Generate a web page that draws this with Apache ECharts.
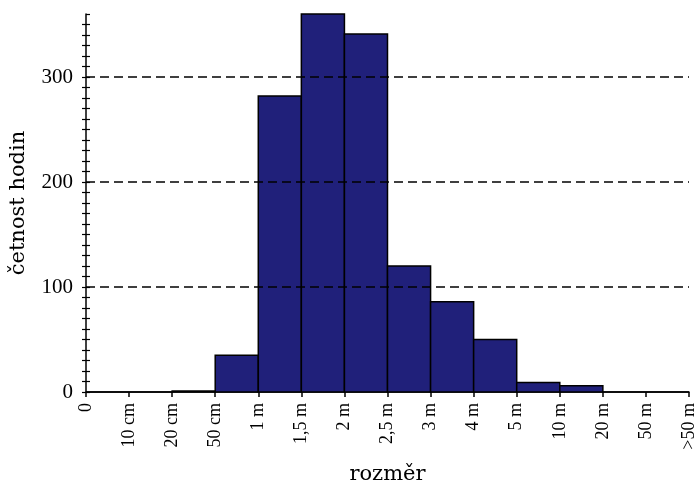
<!DOCTYPE html>
<html>
<head>
<meta charset="utf-8">
<script src="https://cdn.jsdelivr.net/npm/echarts@6/dist/echarts.min.js"></script>
<style>html,body{margin:0;padding:0;background:#fff;}#c{width:698px;height:484px;}</style>
</head>
<body>
<div id="c"></div>
<script>
const xLabels = ['0','10 cm','20 cm','50 cm','1 m','1,5 m','2 m','2,5 m','3 m','4 m','5 m','10 m','20 m','50 m','>50 m'];
const counts = [0, 0, 1, 35, 282, 360, 341, 120, 86, 50, 9, 6, 0, 0];
const yLabelValues = [0, 100, 200, 300];
const gridValues = [100, 200, 300];
const yMax = 360;

const binData = counts.map((c, i) => [i, i + 1, c]);

const chart = echarts.init(document.getElementById('c'), null, {renderer: 'canvas'});
const tickFont = 'Liberation Serif';
const titleFont = 'DejaVu Serif';

chart.setOption({
  animation: false,
  backgroundColor: '#fff',
  grid: {left: 86, right: 9, top: 14, bottom: 92, containLabel: false, outerBoundsMode: 'none'},
  xAxis: {
    type: 'value', min: 0, max: xLabels.length - 1, interval: 1,
    name: 'rozměr', nameLocation: 'middle', nameGap: 72,
    nameTextStyle: {fontFamily: titleFont, fontSize: 21, color: '#000'},
    axisLine: {show: true, lineStyle: {color: '#000', width: 1.5}},
    axisTick: {show: true, length: 5, lineStyle: {color: '#000', width: 1.5}},
    axisLabel: {
      rotate: 90, margin: 11, color: '#000', fontFamily: tickFont, fontSize: 18,
      formatter: v => xLabels[v] !== undefined ? xLabels[v] : ''
    },
    splitLine: {show: false}
  },
  yAxis: [
    {
      type: 'value', min: 0, max: yMax, interval: 10,
      name: 'četnost hodin', nameLocation: 'middle', nameGap: 57,
      nameTextStyle: {fontFamily: titleFont, fontSize: 21, color: '#000'},
      axisLine: {show: true, lineStyle: {color: '#000', width: 1.5}},
      axisTick: {show: true, length: 4, lineStyle: {color: '#000', width: 1.2}},
      axisLabel: {
        margin: 13, color: '#000', fontFamily: tickFont, fontSize: 21, showMaxLabel: false,
        formatter: v => yLabelValues.indexOf(v) >= 0 ? String(v) : ''
      },
      splitLine: {show: false}
    },
    {
      type: 'value', min: 0, max: yMax, interval: 10, position: 'left',
      axisLine: {show: false},
      axisTick: {show: true, inside: true, length: 4, lineStyle: {color: '#000', width: 1.2}},
      axisLabel: {show: false},
      splitLine: {show: false}
    }
  ],
  series: [{
    type: 'custom',
    data: binData,
    encode: {x: [0, 1], y: 2},
    renderItem: function (params, api) {
      const p0 = api.coord([api.value(0), api.value(2)]);
      const p1 = api.coord([api.value(1), 0]);
      return {
        type: 'rect',
        shape: {x: p0[0], y: p0[1], width: p1[0] - p0[0], height: p1[1] - p0[1]},
        style: {fill: '#20207a', stroke: '#000', lineWidth: 1.5}
      };
    },
    markLine: {
      silent: true, symbol: 'none', label: {show: false},
      lineStyle: {color: '#000', type: [9, 5], width: 1.5},
      data: gridValues.map(v => ({yAxis: v}))
    },
    z: 2
  }]
});
</script>
</body>
</html>
